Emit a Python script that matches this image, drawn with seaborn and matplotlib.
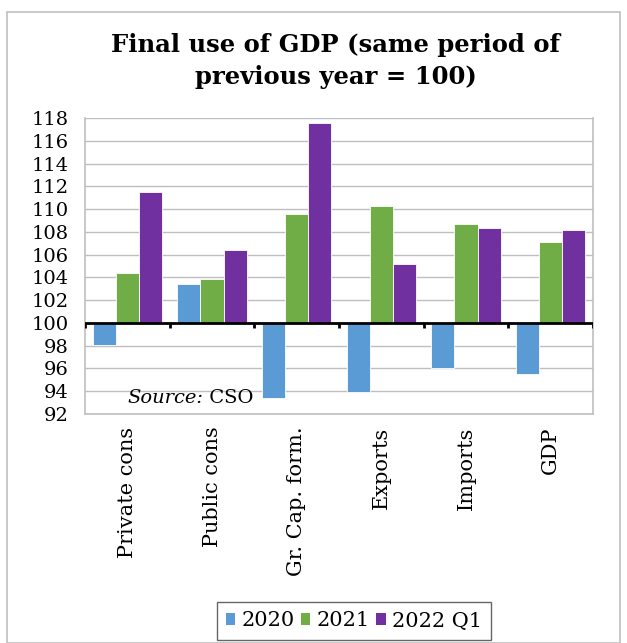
import matplotlib
matplotlib.use("Agg")
import matplotlib.pyplot as plt
import seaborn as sns
import pandas as pd
from matplotlib.patches import Rectangle

# Index values, same period of previous year = 100
categories = ["Private cons", "Public cons", "Gr. Cap. form.", "Exports", "Imports", "GDP"]
series_names = ["2020", "2021", "2022 Q1"]
v2020 = [98.1, 103.4, 93.4, 93.9, 96.0, 95.5]
v2021 = [104.4, 103.9, 109.6, 110.3, 108.7, 107.1]
v2022q1 = [111.5, 106.4, 117.6, 105.2, 108.3, 108.2]
colors = ["#5B9BD5", "#70AD47", "#7030A0"]
yticks = list(range(92, 119, 2))

BASE = 100
rows = []
for name, vals in zip(series_names, [v2020, v2021, v2022q1]):
    for cat, v in zip(categories, vals):
        rows.append({"category": cat, "series": name, "value": v, "delta": v - BASE})
df = pd.DataFrame(rows)

sns.set_theme(style="white")
plt.rcParams["font.family"] = ["DejaVu Serif"]
plt.rcParams["text.color"] = "black"
plt.rcParams["xtick.color"] = "black"
plt.rcParams["ytick.color"] = "black"

fig = plt.figure(figsize=(6.27, 6.43), dpi=100)
ax = fig.add_axes([85 / 627, 1 - 414 / 643, (593 - 85) / 627, (414 - 118) / 643])

# bars rise or fall from the 100 baseline
sns.barplot(data=df, x="category", y="delta", hue="series", order=categories,
            hue_order=series_names, palette=colors, width=0.815, bottom=BASE,
            saturation=1, edgecolor="white", linewidth=0.6, legend=False, ax=ax,
            zorder=3)

ax.set_ylim(92, 118)
ax.set_xlim(-0.5, len(categories) - 0.5)
ax.set_yticks(yticks)
ax.set_yticklabels([str(t) for t in yticks], fontsize=14)
ax.yaxis.grid(True, color="#BFBFBF", linewidth=1, zorder=0)
ax.set_axisbelow(True)
ax.tick_params(axis="y", length=0, pad=12)
ax.tick_params(axis="x", length=0, pad=9)
ax.set_xticks(range(len(categories)))
ax.set_xticklabels(categories, rotation=90, fontsize=15, va="top")
ax.set_xlabel("")
ax.set_ylabel("")

for side in ["left", "right", "top", "bottom"]:
    ax.spines[side].set_color("#BFBFBF")
    ax.spines[side].set_linewidth(1.2)
ax.spines["top"].set_visible(False)

# category axis drawn at the 100 baseline with tick marks between groups
ax.axhline(BASE, color="black", linewidth=2, zorder=4)
ax.vlines([i - 0.5 for i in range(len(categories) + 1)], BASE - 0.45, BASE,
          color="black", linewidth=2, zorder=4)

src = ax.text(0.0, 92.6, "Source:", fontsize=14, style="italic", ha="left",
              va="bottom", zorder=5)
ax.annotate(" CSO", xy=(1, 0), xycoords=src, ha="left", va="bottom",
            fontsize=14, zorder=5)

fig.text(0.535, 1 - 61 / 643, "Final use of GDP (same period of\nprevious year = 100)",
         ha="center", va="center", fontsize=17.5, fontweight="bold", linespacing=1.4)

handles = [Rectangle((0, 0), 1, 1, facecolor=c, edgecolor="none") for c in colors]
fig.legend(handles, series_names, loc="center", bbox_to_anchor=(354 / 627, 1 - 621 / 643),
           ncol=3, fontsize=15, frameon=True, fancybox=False, edgecolor="#404040",
           handlelength=0.45, handleheight=0.45, handletextpad=0.3, columnspacing=0.3,
           borderpad=0.45, borderaxespad=0)

# outer chart border
fig.patches.append(Rectangle((7 / 627, 0), 613 / 627, 1 - 12 / 643, transform=fig.transFigure,
                             fill=False, edgecolor="#BFBFBF", linewidth=1.2))

fig.savefig("out.png", dpi=100)
